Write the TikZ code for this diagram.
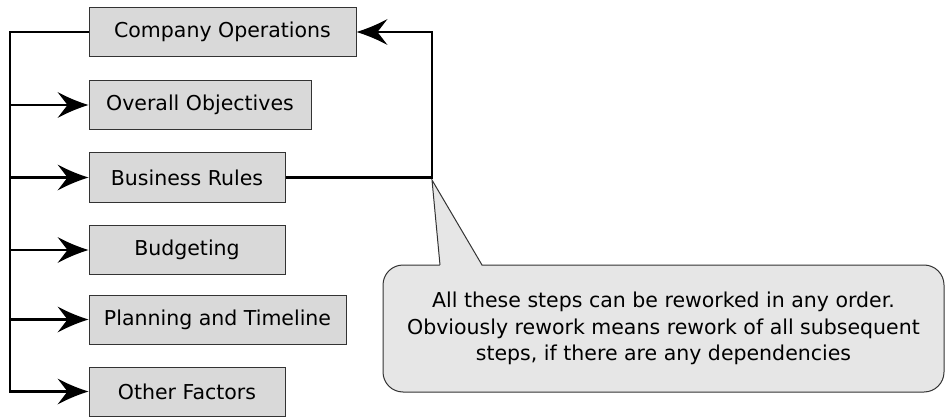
\documentclass[tikz,border=0pt]{standalone}
\usepackage{fontspec}
\setmainfont{DejaVu Sans}
\definecolor{boxgray}{HTML}{D9D9D9}
\definecolor{callgray}{HTML}{E6E6E6}
\definecolor{edgegray}{HTML}{333333}
\begin{document}
\begin{tikzpicture}[x=1pt,y=-1pt,
  stepbox/.style={draw=edgegray, line width=1pt, fill=boxgray, inner sep=0pt,
    minimum height=49pt, font=\fontsize{20.5}{24}\selectfont},
  conn/.style={line width=2.8pt, black, shorten >=15pt},
  ahead/.pic={\fill[black] (0,0) .. controls (-10,-3) and (-22,-8) .. (-31,-13)
      -- (-21,0) -- (-31,13) .. controls (-22,8) and (-10,3) .. (0,0) -- cycle;},
  notebox/.style={draw=edgegray, line width=1pt, fill=callgray, rounded corners=20pt,
    minimum width=561pt, minimum height=127pt, inner sep=0pt, align=center,
    font=\fontsize{20.5}{26.5}\selectfont}]
\useasboundingbox (0,0) rectangle (945,417);

% callout (drawn first, under connectors)
\node[notebox] (note) at (663.5,328.5) {All these steps can be reworked in any order.\\Obviously rework means rework of all subsequent\\steps, if there are any dependencies};
\coordinate (apex) at (432,180);
\coordinate (pl) at (440,265);
\coordinate (pr) at (482,265);
\fill[callgray] (440,266.2) -- (apex) -- (482,266.2) -- cycle;
\draw[edgegray, line width=1pt, line join=miter] (pl) -- (apex) -- (pr);

% boxes
\node[stepbox, minimum width=267pt] (co) at (222.5,32) {Company Operations};
\node[stepbox, minimum width=222pt] (oo) at (200,105) {Overall Objectives};
\node[stepbox, minimum width=196pt] (br) at (187,177.5) {Business Rules};
\node[stepbox, minimum width=196pt] (bu) at (187,250) {Budgeting};
\node[stepbox, minimum width=257pt] (pt) at (217.5,319.5) {Planning and Timeline};
\node[stepbox, minimum width=196pt] (of) at (187,391.5) {Other Factors};

% left bus
\coordinate (bt) at (10,32);
\draw[conn] (co.west) -- (bt) |- (of.west);
\draw[conn] (bt |- oo.west) -- (oo.west);
\draw[conn] (bt |- br.west) -- (br.west);
\draw[conn] (bt |- bu.west) -- (bu.west);
\draw[conn] (bt |- pt.west) -- (pt.west);
\foreach \n in {oo,br,bu,pt,of} \pic at (\n.west) {ahead};

% right loop back
\coordinate (rtop) at (432,32);
\draw[conn] (br.east) -| (rtop) -- (co.east);
\pic[rotate=180] at (co.east) {ahead};
\end{tikzpicture}
\end{document}
